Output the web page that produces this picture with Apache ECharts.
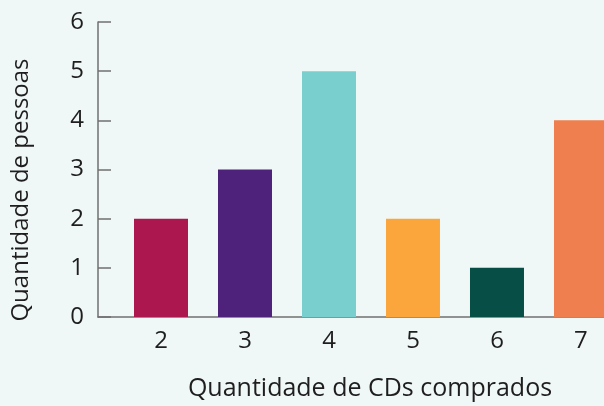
<!DOCTYPE html>
<html>
<head>
<meta charset="utf-8">
<script src="https://cdn.jsdelivr.net/npm/echarts@6/dist/echarts.min.js"></script>
<style>
html,body{margin:0;padding:0;background:#f0f8f7;}
#chart{width:604px;height:406px;}
</style>
</head>
<body>
<div id="chart"></div>
<script>
const categories = [2, 3, 4, 5, 6, 7];
const values = [2, 3, 5, 2, 1, 4];
const barColors = ['#ad1750', '#4e217a', '#79cfce', '#fba63c', '#074e46', '#ef7f4f'];
const yTicks = [0, 1, 2, 3, 4, 5, 6];
const xTitle = 'Quantidade de CDs comprados';
const yTitle = 'Quantidade de pessoas';

const chart = echarts.init(document.getElementById('chart'));
const font = '"Open Sans", "Noto Sans", sans-serif';
chart.setOption({
  backgroundColor: '#f0f8f7',
  animation: false,
  grid: { left: 98, top: 22, bottom: 89, right: 0, containLabel: false },
  xAxis: {
    type: 'value', min: 1.25, max: 7.274,
    splitLine: { show: false },
    axisLine: { show: true, lineStyle: { color: '#707070', width: 1.5 } },
    axisTick: { show: false },
    axisLabel: { customValues: categories, color: '#1e1e1e', fontSize: 24, fontWeight: 500, fontFamily: font, margin: 12 }
  },
  yAxis: {
    type: 'value', min: 0, max: 6, interval: 1,
    splitLine: { show: false },
    axisLine: { show: true, lineStyle: { color: '#707070', width: 1.5 } },
    axisTick: { show: true, inside: true, length: 13, lineStyle: { color: '#707070', width: 1.5 } },
    axisLabel: { color: '#1e1e1e', fontSize: 24, fontWeight: 500, fontFamily: font, margin: 14,
      formatter: v => yTicks.includes(v) ? String(v) : '' }
  },
  graphic: [
    { type: 'text', x: 370, y: 389,
      style: { text: xTitle, fill: '#1e1e1e', font: '500 25px ' + font, align: 'center', verticalAlign: 'middle' } },
    { type: 'text', x: 21, y: 190, rotation: Math.PI / 2,
      style: { text: yTitle, fill: '#1e1e1e', font: '500 24px ' + font, align: 'center', verticalAlign: 'middle' } }
  ],
  series: [{
    type: 'bar',
    barWidth: 54,
    data: categories.map((c, i) => ({ value: [c, values[i]], itemStyle: { color: barColors[i] } }))
  }]
});
</script>
</body>
</html>
